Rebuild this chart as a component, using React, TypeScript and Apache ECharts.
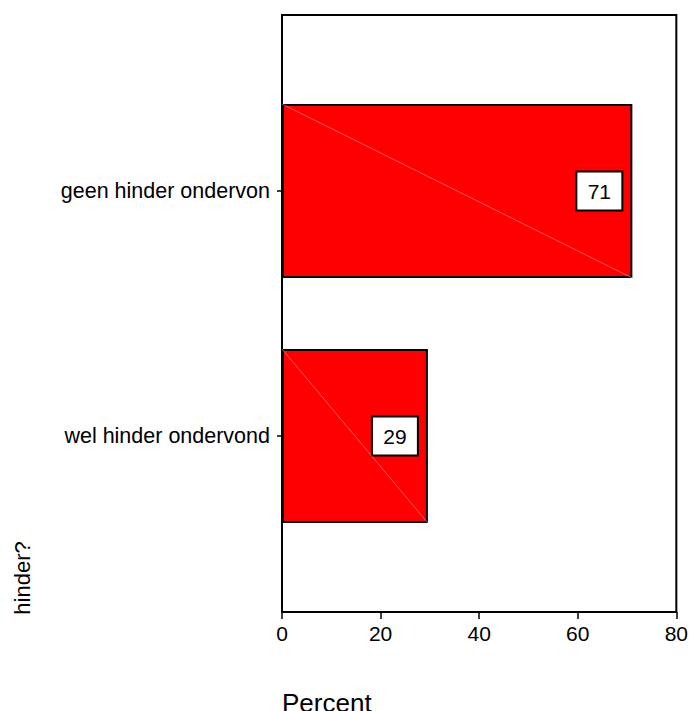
import React, { useEffect, useRef } from "react";
import * as echarts from "echarts";

const categories = ["geen hinder ondervon", "wel hinder ondervond"];
const percentValues = [70.6, 29.4];
const labelValues = ["71", "29"];
const xTicks = [0, 20, 40, 60, 80];

const FONT = "'Liberation Sans', Arial, sans-serif";

export default function App() {
  const ref = useRef<HTMLDivElement>(null);
  useEffect(() => {
    if (!ref.current) return;
    const chart = echarts.init(ref.current, null, { renderer: "svg" });
    const BAR_W = 174;
    chart.setOption({
      animation: false,
      backgroundColor: "#ffffff",
      grid: [
        { left: 282, right: 12, top: 15, bottom: 99, show: true, borderColor: "#000", borderWidth: 2, backgroundColor: "transparent" },
        { left: 282, right: 12, top: 68.5, height: 490 },
      ],
      xAxis: [
        {
          gridIndex: 0,
          type: "value",
          min: xTicks[0],
          max: xTicks[xTicks.length - 1],
          interval: 20,
          axisLine: { show: true, lineStyle: { color: "#000", width: 2 } },
          axisTick: { show: true, length: 7, lineStyle: { color: "#000", width: 1.5 } },
          axisLabel: { color: "#000", fontSize: 21, fontFamily: FONT, margin: 11 },
          splitLine: { show: false },
        },
        {
          gridIndex: 1,
          type: "value",
          min: xTicks[0],
          max: xTicks[xTicks.length - 1],
          show: false,
        },
      ],
      yAxis: [
        { gridIndex: 0, type: "category", data: ["a"], show: false },
        {
          gridIndex: 1,
          type: "category",
          data: categories,
          inverse: true,
          axisLine: { show: false },
          axisTick: { show: true, alignWithLabel: true, length: 5, lineStyle: { color: "#000", width: 1.5 } },
          axisLabel: { color: "#000", fontSize: 21.5, fontFamily: FONT, margin: 12 },
        },
      ],
      series: [
        {
          type: "bar",
          xAxisIndex: 1,
          yAxisIndex: 1,
          barWidth: BAR_W,
          data: percentValues,
          itemStyle: { color: "#ff0000", borderColor: "#000", borderWidth: 2 },
          label: {
            show: true,
            position: "insideRight",
            distance: 33,
            formatter: (p: any) => labelValues[p.dataIndex],
            color: "#000",
            fontSize: 21,
            fontFamily: FONT,
            backgroundColor: "#fff",
            borderColor: "#000",
            borderWidth: 2,
            width: 44,
            height: 37,
            lineHeight: 37,
            align: "center",
            padding: 0,
          },
          z: 2,
        },
        {
          type: "custom",
          xAxisIndex: 1,
          yAxisIndex: 1,
          data: percentValues.map((v, i) => [v, i]),
          z: 3,
          silent: true,
          renderItem: (params: any, api: any) => {
            const v = api.value(0);
            const idx = api.value(1);
            const p0 = api.coord([0, idx]);
            const p1 = api.coord([v, idx]);
            return {
              type: "line",
              shape: { x1: p0[0], y1: p0[1] - BAR_W / 2, x2: p1[0], y2: p1[1] + BAR_W / 2 },
              style: { stroke: "rgba(255,170,170,0.9)", lineWidth: 0.6 },
              z2: 1,
            };
          },
        },
      ],
      graphic: [
        {
          type: "text",
          x: 22,
          y: 578,
          rotation: Math.PI / 2,
          style: { text: "hinder?", fill: "#000", font: `22px ${FONT}`, align: "center", verticalAlign: "middle" },
        },
        {
          type: "text",
          x: 282,
          y: 703,
          style: { text: "Percent", fill: "#000", font: `26px ${FONT}`, align: "left", verticalAlign: "middle" },
        },
      ],
    });
    return () => chart.dispose();
  }, []);
  return <div ref={ref} style={{ width: 691, height: 711, position: "absolute", left: 0, top: 0 }} />;
}
